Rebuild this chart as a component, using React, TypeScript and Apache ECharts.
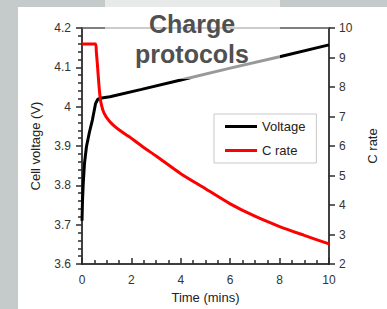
import React, { useEffect, useRef } from "react";
import * as echarts from "echarts";

const timeV = [0, 0.02, 0.05, 0.1, 0.18, 0.3, 0.42, 0.55, 0.64, 0.8, 1.13, 2.41, 4, 6, 8, 10];
const voltage = [3.71, 3.76, 3.805, 3.855, 3.898, 3.935, 3.966, 4.008, 4.019, 4.022, 4.025, 4.044, 4.068, 4.098, 4.127, 4.157];

const timeC = [0, 0.55, 0.58, 0.62, 0.68, 0.74, 0.8, 0.87, 0.97, 1.13, 1.3, 1.51, 1.9, 2.5, 3, 4, 5, 6, 7, 8, 9, 10];
const cRate = [9.46, 9.46, 9.2, 8.8, 8.13, 7.6, 7.35, 7.16, 7.0, 6.82, 6.68, 6.54, 6.32, 5.95, 5.66, 5.06, 4.55, 4.04, 3.62, 3.27, 2.97, 2.68];

const seriesNames = ["Voltage", "C rate"];
const titleLines = ["Charge", "protocols"];

const FONT = "'Liberation Sans', Arial, sans-serif";

export default function App() {
  const ref = useRef<HTMLDivElement>(null);
  useEffect(() => {
    if (!ref.current) return;
    const chart = echarts.init(ref.current, null, { renderer: "svg" });
    const labelStyle = { color: "#333", fontSize: 12, fontFamily: FONT };
    const tickLine = { color: "#2b2b2b", width: 1.5 };
    chart.setOption({
      animation: false,
      backgroundColor: "#ffffff",
      textStyle: { fontFamily: FONT },
      grid: { left: 82, right: 45, top: 28, bottom: 45, containLabel: false },
      legend: {
        orient: "vertical",
        left: 214,
        top: 114,
        padding: [6, 11, 6, 11],
        itemGap: 11,
        itemWidth: 32,
        itemHeight: 3,
        icon: "rect",
        borderColor: "#c8c8c8",
        borderWidth: 1,
        textStyle: { color: "#222", fontSize: 13, fontFamily: FONT },
        data: seriesNames,
      },
      xAxis: [
        {
          type: "value",
          min: 0,
          max: 10,
          interval: 2,
          position: "bottom",
          name: "Time (mins)",
          nameLocation: "middle",
          nameGap: 27,
          nameTextStyle: { color: "#222", fontSize: 13, fontFamily: FONT },
          axisLine: { show: true, onZero: false, lineStyle: { color: "#000", width: 1.5 } },
          axisTick: { show: true, inside: true, length: 6, lineStyle: tickLine },
          minorTick: { show: true, splitNumber: 4, length: 4, lineStyle: tickLine },
          axisLabel: { ...labelStyle, margin: 10 },
          splitLine: { show: false },
          minorSplitLine: { show: false },
        },
        {
          type: "value",
          min: 0,
          max: 10,
          position: "top",
          axisLine: { show: true, onZero: false, lineStyle: { color: "#555", width: 1.5 } },
          axisTick: { show: false },
          axisLabel: { show: false },
          splitLine: { show: false },
        },
      ],
      yAxis: [
        {
          type: "value",
          min: 3.6,
          max: 4.2,
          interval: 0.1,
          position: "left",
          name: "Cell voltage (V)",
          nameLocation: "middle",
          nameRotate: 90,
          nameGap: 40,
          nameTextStyle: { color: "#222", fontSize: 13, fontFamily: FONT },
          axisLine: { show: true, onZero: false, lineStyle: { color: "#000", width: 1.5 } },
          axisTick: { show: true, inside: false, length: 6, lineStyle: tickLine },
          minorTick: { show: true, splitNumber: 5, length: 4, lineStyle: tickLine },
          axisLabel: { ...labelStyle, margin: 11, formatter: (v: number) => String(Math.round(v * 10) / 10) },
          splitLine: { show: false },
        },
        {
          type: "value",
          min: 2,
          max: 10,
          interval: 1,
          position: "right",
          name: "C rate",
          nameLocation: "middle",
          nameRotate: 90,
          nameGap: 37,
          nameTextStyle: { color: "#222", fontSize: 13, fontFamily: FONT },
          axisLine: { show: true, onZero: false, lineStyle: { color: "#000", width: 1.5 } },
          axisTick: { show: true, inside: false, length: 6, lineStyle: tickLine },
          axisLabel: { ...labelStyle, margin: 10 },
          splitLine: { show: false },
        },
      ],
      series: [
        {
          name: seriesNames[0],
          type: "line",
          xAxisIndex: 0,
          yAxisIndex: 0,
          showSymbol: false,
          lineStyle: { color: "#000", width: 3 },
          itemStyle: { color: "#000" },
          data: timeV.map((t, i) => [t, voltage[i]]),
        },
        {
          name: seriesNames[1],
          type: "line",
          xAxisIndex: 0,
          yAxisIndex: 1,
          showSymbol: false,
          smooth: 0.25,
          lineStyle: { color: "#ff0000", width: 3 },
          itemStyle: { color: "#ff0000" },
          data: timeC.map((t, i) => [t, cRate[i]]),
        },
      ],
      graphic: [
        { type: "rect", shape: { x: 0, y: 0, width: 18, height: 309 }, style: { fill: "#c5cbca" }, z: 1 },
        { type: "rect", shape: { x: 0, y: 0, width: 387, height: 7 }, style: { fill: "#c5cbca" }, z: 1 },
        { type: "rect", shape: { x: 105, y: 0, width: 175, height: 79 }, style: { fill: "rgba(255,255,255,0.6)" }, z: 50 },
        {
          type: "text",
          x: 192,
          y: 9,
          z: 51,
          style: {
            text: titleLines.join("\n"),
            fill: "#505050",
            font: `bold 25px ${FONT}`,
            lineHeight: 30,
            textAlign: "center",
            textVerticalAlign: "top",
          },
        },
      ],
    });
    return () => chart.dispose();
  }, []);
  return <div ref={ref} style={{ position: "absolute", left: 0, top: 0, width: 387, height: 309 }} />;
}
